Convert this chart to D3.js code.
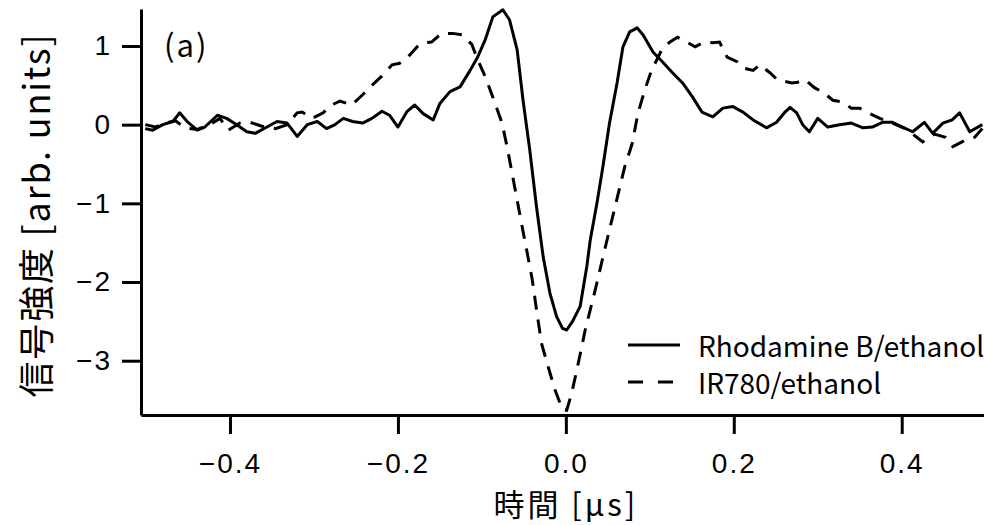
<!DOCTYPE html>
<html>
<head>
<meta charset="utf-8">
<script src="https://cdn.jsdelivr.net/npm/d3@7"></script>
<style>
  body { margin: 0; background: #fff; }
  svg { display: block; font-family: "Noto Sans CJK JP", "Noto Sans", sans-serif; }
</style>
</head>
<body>
<div id="chart"></div>
<script>
// time axis [us] and signal values
let rhodTime = [-0.501,-0.492,-0.480,-0.468,-0.460,-0.451,-0.439,-0.430,-0.415,-0.404,-0.392,-0.380,-0.370,-0.356,-0.344,-0.332,-0.320,-0.308,-0.296,-0.285,-0.275,-0.265,-0.254,-0.242,-0.231,-0.219,-0.210,-0.200,-0.189,-0.180,-0.170,-0.158,-0.150,-0.138,-0.126,-0.114,-0.105,-0.096,-0.087,-0.075,-0.067,-0.058,-0.051,-0.043,-0.035,-0.027,-0.019,-0.011,-0.004,0.001,0.008,0.017,0.025,0.029,0.037,0.044,0.052,0.061,0.068,0.076,0.085,0.092,0.104,0.115,0.127,0.139,0.151,0.162,0.175,0.187,0.199,0.211,0.223,0.239,0.251,0.261,0.267,0.275,0.282,0.290,0.300,0.312,0.326,0.340,0.354,0.365,0.377,0.389,0.401,0.413,0.427,0.437,0.449,0.460,0.469,0.481,0.496]
let rhodValue = [-0.05,-0.07,0.00,0.04,0.15,0.04,-0.07,-0.03,0.12,0.08,0.00,-0.09,-0.11,-0.03,0.04,0.02,-0.15,0.00,0.04,-0.05,0.00,0.08,0.04,0.02,0.08,0.17,0.12,-0.03,0.17,0.25,0.14,0.06,0.27,0.42,0.48,0.69,0.86,1.08,1.37,1.46,1.33,0.95,0.31,-0.32,-1.04,-1.68,-2.14,-2.44,-2.59,-2.61,-2.50,-2.31,-1.80,-1.47,-1.00,-0.54,0.02,0.53,0.99,1.18,1.23,1.14,0.92,0.80,0.66,0.53,0.35,0.16,0.10,0.21,0.23,0.16,0.06,-0.04,0.03,0.16,0.22,0.15,0.00,-0.09,0.08,-0.03,0.00,0.02,-0.04,-0.03,0.03,0.03,-0.03,-0.09,0.03,-0.11,0.02,0.06,0.15,-0.09,0.00]

let irTime = [-0.501,-0.489,-0.477,-0.465,-0.454,-0.439,-0.424,-0.412,-0.402,-0.388,-0.376,-0.362,-0.346,-0.332,-0.320,-0.314,-0.302,-0.289,-0.281,-0.269,-0.255,-0.242,-0.231,-0.218,-0.207,-0.198,-0.188,-0.177,-0.170,-0.160,-0.148,-0.135,-0.123,-0.112,-0.106,-0.096,-0.087,-0.076,-0.070,-0.064,-0.058,-0.052,-0.046,-0.040,-0.035,-0.029,-0.021,-0.013,-0.004,0.001,0.007,0.013,0.019,0.023,0.035,0.046,0.058,0.070,0.079,0.086,0.094,0.102,0.110,0.115,0.124,0.133,0.144,0.154,0.165,0.175,0.183,0.192,0.204,0.211,0.223,0.231,0.243,0.252,0.269,0.276,0.285,0.296,0.308,0.318,0.329,0.340,0.350,0.360,0.374,0.389,0.404,0.418,0.425,0.439,0.452,0.461,0.477,0.487,0.496]
let irValue = [0.00,-0.03,0.02,0.05,-0.04,-0.06,0.00,0.08,-0.07,0.02,0.03,-0.02,-0.05,0.00,0.15,0.16,0.08,0.15,0.24,0.30,0.25,0.38,0.50,0.63,0.76,0.78,0.86,0.99,1.04,1.05,1.16,1.16,1.14,1.02,0.85,0.61,0.35,0.02,-0.28,-0.62,-0.96,-1.30,-1.63,-1.97,-2.35,-2.78,-3.08,-3.37,-3.62,-3.63,-3.41,-3.12,-2.82,-2.61,-2.10,-1.60,-1.07,-0.54,-0.24,0.15,0.44,0.69,0.86,0.97,1.05,1.11,1.05,0.99,1.05,1.04,1.05,0.86,0.80,0.72,0.69,0.76,0.66,0.57,0.53,0.54,0.57,0.47,0.40,0.31,0.29,0.21,0.21,0.15,0.08,0.02,-0.05,-0.16,-0.22,-0.12,-0.16,-0.28,-0.19,-0.16,-0.05]

let xTicks = [-0.4, -0.2, 0.0, 0.2, 0.4]
let yTicks = [1, 0, -1, -2, -3]
let seriesNames = ["Rhodamine B/ethanol", "IR780/ethanol"]

const width = 984, height = 525
const plotLeft = 141, plotRight = 984, plotTop = 9, plotBottom = 415

const svg = d3.select("#chart").append("svg")
  .attr("width", width).attr("height", height)

const x = d3.scaleLinear().domain([-0.506, 0.498]).range([plotLeft, plotRight])
const y = d3.scaleLinear().domain([-3.69, 1.47]).range([plotBottom, plotTop])

const line = d3.line().x(d => x(d[0])).y(d => y(d[1]))

let rhod = rhodTime.map((t, i) => [t, rhodValue[i]])
let ir = irTime.map((t, i) => [t, irValue[i]])

svg.append("path").datum(ir)
  .attr("d", line)
  .attr("fill", "none").attr("stroke", "#000")
  .attr("stroke-width", 3).attr("stroke-dasharray", "14,10")

svg.append("path").datum(rhod)
  .attr("d", line)
  .attr("fill", "none").attr("stroke", "#000")
  .attr("stroke-width", 3).attr("stroke-linejoin", "round")

// axes
const xAxis = svg.append("g").attr("transform", `translate(0,${plotBottom})`)
  .call(d3.axisBottom(x).tickValues(xTicks).tickFormat(d3.format(".1f"))
    .tickSizeInner(19).tickSizeOuter(0).tickPadding(19))
const yAxis = svg.append("g").attr("transform", `translate(${plotLeft},0)`)
  .call(d3.axisLeft(y).tickValues(yTicks).tickFormat(d3.format("d"))
    .tickSizeInner(19).tickSizeOuter(0).tickPadding(10))

svg.selectAll(".domain").attr("stroke-width", 3)
svg.selectAll(".tick line").attr("stroke-width", 3)
svg.selectAll(".tick text").attr("font-size", 28)
  .attr("letter-spacing", 2)
  .attr("font-family", '"Liberation Sans", sans-serif').attr("fill", "#000")

// axis titles
svg.append("text")
  .attr("x", x(0)).attr("y", 516)
  .attr("text-anchor", "middle").attr("font-size", 31)
  .attr("letter-spacing", 3)
  .text("時間 [μs]")

svg.append("text")
  .attr("transform", `translate(50,${(plotTop + plotBottom) / 2 + 3}) rotate(-90)`)
  .attr("text-anchor", "middle").attr("font-size", 36)
  .attr("letter-spacing", 1.8)
  .text("信号強度 [arb. units]")

svg.append("text")
  .attr("x", 164).attr("y", 57)
  .attr("font-size", 31).attr("letter-spacing", 2)
  .text("(a)")

// legend
const legend = svg.append("g").attr("transform", "translate(628,345)")
seriesNames.forEach((name, i) => {
  legend.append("line")
    .attr("x1", 0).attr("x2", 52)
    .attr("y1", i * 37).attr("y2", i * 37)
    .attr("stroke", "#000").attr("stroke-width", 3)
    .attr("stroke-dasharray", i === 0 ? null : "15,15")
  legend.append("text")
    .attr("x", 70).attr("y", i * 37 + 12)
    .attr("font-size", 28)
    .text(name)
})
</script>
</body>
</html>
